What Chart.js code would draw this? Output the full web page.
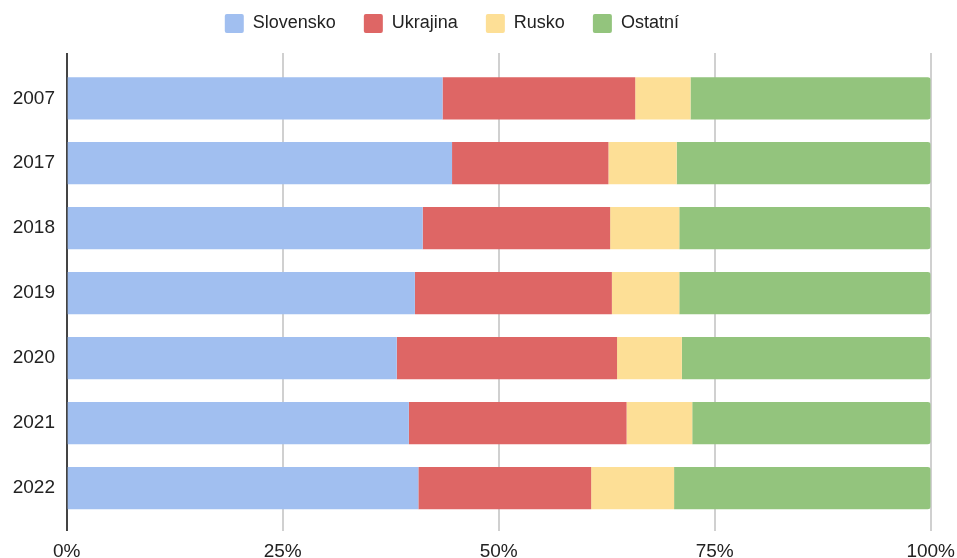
<!DOCTYPE html>
<html>
<head>
<meta charset="utf-8">
<script src="https://cdn.jsdelivr.net/npm/chart.js@4.4.0/dist/chart.umd.min.js"></script>
<style>
  html, body { margin: 0; padding: 0; background: #fff; }
  #wrap { width: 957px; height: 558px; position: relative; }
</style>
</head>
<body>
<div id="wrap"><canvas id="chart"></canvas></div>
<script>
// values (share in %, one entry per year)
const years = ['2007', '2017', '2018', '2019', '2020', '2021', '2022'];
const slovensko = [43.5, 44.6, 41.2, 40.3, 38.2, 39.6, 40.7];
const ukrajina = [22.3, 18.1, 21.7, 22.8, 25.5, 25.2, 20.0];
const rusko = [6.4, 7.9, 8.0, 7.8, 7.5, 7.6, 9.6];
const ostatni = [27.8, 29.4, 29.1, 29.1, 28.8, 27.6, 29.7];

const seriesNames = ['Slovensko', 'Ukrajina', 'Rusko', 'Ostatní'];
const seriesColors = ['#a1bff0', '#de6665', '#fddf96', '#93c47d'];
const xTicks = [0, 25, 50, 75, 100];

const FONT = "'Liberation Sans', Arial, sans-serif";
const TEXT = '#222';

// 100% stacked: turn each year into shares of its total
const series = [slovensko, ukrajina, rusko, ostatni];
const totals = years.map((_, i) => series.reduce((s, arr) => s + arr[i], 0));
const toPercent = arr => arr.map((v, i) => v / totals[i] * 100);

const datasets = series.map((arr, k) => ({
    label: seriesNames[k],
    data: toPercent(arr),
    backgroundColor: seriesColors[k],
    borderWidth: 0,
    borderRadius: k === series.length - 1 ? 3 : 0,
    barPercentage: 0.65,
    categoryPercentage: 1,
}));

const gridColor = c => (c.tick && c.tick.value === 0 ? '#444' : '#d0d0d0');

// legend sits a bit left and higher than chart.js would put it
const legendNudge = {
    id: 'legendNudge',
    afterLayout(chart) {
        const lg = chart.legend;
        lg.left -= 13.5;
        lg.right -= 13.5;
        lg.top -= 14;
        lg.bottom -= 14;
    }
};

new Chart(document.getElementById('chart').getContext('2d'), {
    type: 'bar',
    data: { labels: years, datasets: datasets },
    plugins: [legendNudge],
    options: {
        indexAxis: 'y',
        responsive: true,
        maintainAspectRatio: false,
        animation: false,
        layout: { padding: { left: 0, right: 26.3, top: 0, bottom: 0 } },
        plugins: {
            tooltip: { enabled: false },
            legend: {
                position: 'top',
                labels: {
                    font: { family: FONT, size: 18 },
                    color: TEXT,
                    boxWidth: 19,
                    boxHeight: 19,
                    padding: 28,
                    useBorderRadius: true,
                    borderRadius: 2,
                },
            },
        },
        scales: {
            x: {
                stacked: true,
                min: 0,
                max: 100,
                afterBuildTicks: s => { s.ticks = xTicks.map(v => ({ value: v })); },
                border: { display: false },
                grid: { color: gridColor, lineWidth: 2, tickLength: 10.5 },
                ticks: {
                    font: { family: FONT, size: 19 },
                    color: TEXT,
                    padding: 9,
                    maxRotation: 0,
                    callback: v => v + '%',
                },
                afterFit: s => { s.height = 37.5; s.paddingRight = 0; },
            },
            x2: {
                position: 'top',
                min: 0,
                max: 100,
                afterBuildTicks: s => { s.ticks = xTicks.map(v => ({ value: v })); },
                border: { display: false },
                grid: { color: gridColor, lineWidth: 2, tickLength: 12.8, drawOnChartArea: false },
                ticks: { display: false },
                afterFit: s => { s.height = 8.8; },
            },
            y: {
                stacked: true,
                border: { display: false },
                grid: { display: false, drawTicks: false },
                ticks: {
                    font: { family: FONT, size: 19 },
                    color: TEXT,
                    padding: 11.7,
                },
                afterFit: s => { s.width = 66.7; },
            },
        },
    },
});
</script>
</body>
</html>
